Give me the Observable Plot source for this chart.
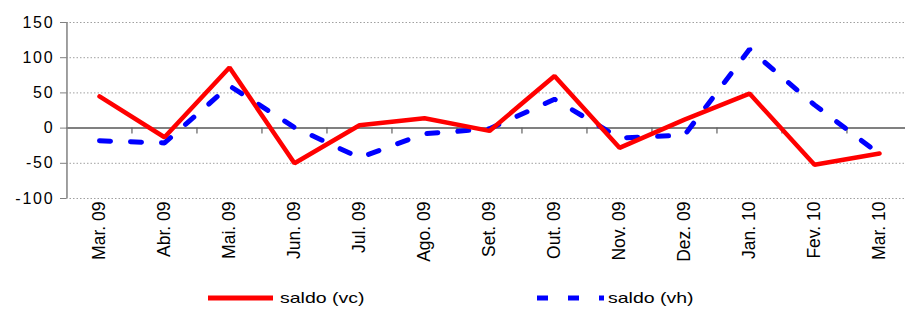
<!DOCTYPE html>
<html><head><meta charset="utf-8">
<script src="https://cdn.jsdelivr.net/npm/d3@7"></script>
<script src="https://cdn.jsdelivr.net/npm/@observablehq/plot@0.6"></script>
<style>
body{margin:0;background:#fff;font-family:"Liberation Sans",Arial,sans-serif;}
#chart svg{display:block;}
g[aria-label="y-axis tick label"] text{letter-spacing:1.8px;}
#legend{position:relative;width:905px;height:27px;}
#legend .t{position:absolute;top:8px;font-size:15px;line-height:16px;color:#000;transform:scaleX(1.3);transform-origin:left center;white-space:nowrap;}
#legend svg{position:absolute;top:0;}
</style></head><body>
<div id="chart"></div>
<div id="legend"></div>
<script>
const months = ["Mar. 09","Abr. 09","Mai. 09","Jun. 09","Jul. 09","Ago. 09","Set. 09","Out. 09","Nov. 09","Dez. 09","Jan. 10","Fev. 10","Mar. 10"];
const saldoVC = [45,-13,86,-50,4,14,-4,74,-28,12,49,-52,-36];
const saldoVH = [-18,-21,60,1,-42,-8,-1,41,-14,-10,112,33,-37];
const yTicks = [-100,-50,0,50,100,150];
const seriesNames = ["saldo (vc)","saldo (vh)"];

const vc = months.map((m,i)=>({month:m, value:saldoVC[i]}));
const vh = months.map((m,i)=>({month:m, value:saldoVH[i]}));

const W = 905, H = 282, left = 66, right = 912;
const step = (right-left)/months.length;

const chart = Plot.plot({
  width: W, height: H,
  marginTop: 22, marginBottom: 84, marginLeft: left, marginRight: W-right,
  style:{fontFamily:'"Liberation Sans",Arial,sans-serif', color:"#000", background:"#fff", overflow:"visible"},
  x:{type:"point", domain:months, range:[left,right], padding:0.5},
  y:{domain:[-100,150]},
  marks:[
    Plot.ruleY(yTicks.filter(d=>d!==0), {stroke:"#a0a0a0", strokeWidth:1, strokeDasharray:"1.5,2"}),
    Plot.ruleY([0], {stroke:"#808080", strokeWidth:2}),
    Plot.ruleX(months.slice(1), {x:d=>d, y1:0, y2:0, dx:-step/2, insetBottom:-6, stroke:"#606060", strokeWidth:1.2}),
    Plot.ruleX([months[0]], {x:d=>d, y1:-100, y2:150, dx:-step/2, stroke:"#808080", strokeWidth:1.5}),
    Plot.axisY({ticks:yTicks, tickSize:6, tickPadding:6, fontSize:16, stroke:"#808080", label:null, tickFormat:d=>d<0?"-"+Math.abs(d):String(d)}),
    Plot.axisX({ticks:months, tickRotate:-90, tickSize:0, tickPadding:3, fontSize:17.5, label:null}),
    Plot.line(vh, {x:"month", y:"value", stroke:"#0000ff", strokeWidth:5, strokeDasharray:"11,20", strokeLinejoin:"miter"}),
    Plot.line(vc, {x:"month", y:"value", stroke:"#ff0000", strokeWidth:4.5, strokeLinejoin:"miter"})
  ]
});
document.getElementById("chart").appendChild(chart);

const lg = document.getElementById("legend");
lg.innerHTML = `
<svg style="left:208px" width="66" height="27"><line x1="0" x2="65" y1="16" y2="16" stroke="#ff0000" stroke-width="5"/></svg>
<div class="t" style="left:280px">${seriesNames[0]}</div>
<svg style="left:537px" width="67" height="27"><line x1="0" x2="67" y1="16" y2="16" stroke="#0000ff" stroke-width="5" stroke-dasharray="11,20"/></svg>
<div class="t" style="left:608px">${seriesNames[1]}</div>`;
</script>
</body></html>
